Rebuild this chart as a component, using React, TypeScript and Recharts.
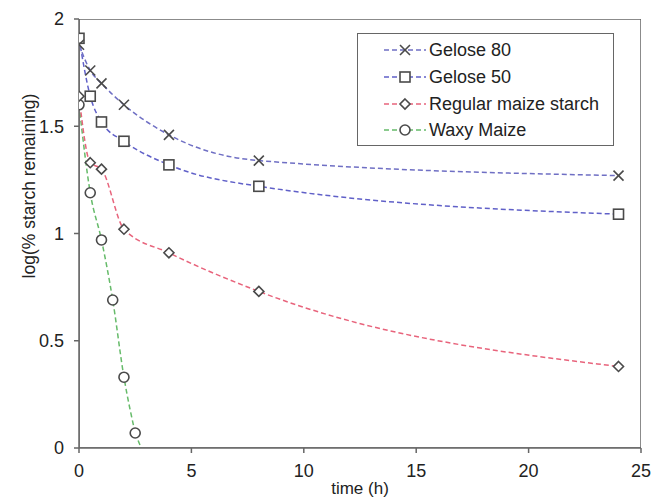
import React from 'react';
import { LineChart, Line, XAxis, YAxis, ReferenceArea } from 'recharts';

const gelose80Times = [0, 0.5, 1, 2, 4, 8, 24];
const gelose80Values = [1.88, 1.76, 1.7, 1.6, 1.46, 1.34, 1.27];
const gelose50Times = [0, 0.5, 1, 2, 4, 8, 24];
const gelose50Values = [1.91, 1.64, 1.52, 1.43, 1.32, 1.22, 1.09];
const regularTimes = [0, 0.5, 1, 2, 4, 8, 24];
const regularValues = [1.64, 1.33, 1.3, 1.02, 0.91, 0.73, 0.38];
const waxyTimes = [0, 0.5, 1, 1.5, 2, 2.5];
const waxyValues = [1.6, 1.19, 0.97, 0.69, 0.33, 0.07];
const waxyTailTimes = [2.5, 2.8];
const waxyTailValues = [0.07, -0.01];

const xTicks = [0, 5, 10, 15, 20, 25];
const yTicks = [0, 0.5, 1, 1.5, 2];

const zip = (ts: number[], vs: number[]) => ts.map((t, i) => ({ t, v: vs[i] }));

const g80 = zip(gelose80Times, gelose80Values);
const g50 = zip(gelose50Times, gelose50Values);
const reg = zip(regularTimes, regularValues);
const waxy = zip(waxyTimes, waxyValues);
const waxyTail = zip(waxyTailTimes, waxyTailValues);

const MK = '#4a4a4a';
const FONT = '"Liberation Sans", Arial, sans-serif';
const TXT = '#222';

const C80 = '#6f6fc4';
const C50 = '#6060c8';
const CREG = '#e8647c';
const CWAXY = '#66bb6a';

type Kind = 'x' | 'square' | 'diamond' | 'circle';

const Marker = ({ kind, cx, cy }: { kind: Kind; cx: number; cy: number }) => {
  const s = 5;
  if (kind === 'x')
    return (
      <g stroke={MK} strokeWidth={1.6}>
        <line x1={cx - s} y1={cy - s} x2={cx + s} y2={cy + s} />
        <line x1={cx - s} y1={cy + s} x2={cx + s} y2={cy - s} />
      </g>
    );
  if (kind === 'square')
    return <rect x={cx - s} y={cy - s} width={2 * s} height={2 * s} fill="#fff" stroke={MK} strokeWidth={1.6} />;
  if (kind === 'diamond')
    return (
      <polygon
        points={`${cx},${cy - s} ${cx + s},${cy} ${cx},${cy + s} ${cx - s},${cy}`}
        fill="#fff"
        stroke={MK}
        strokeWidth={1.6}
      />
    );
  return <circle cx={cx} cy={cy} r={s} fill="#fff" stroke={MK} strokeWidth={1.6} />;
};

const dotFn = (kind: Kind) => (props: any) =>
  <Marker key={`${kind}-${props.index}`} kind={kind} cx={props.cx} cy={props.cy} />;

const legendItems: { name: string; color: string; kind: Kind }[] = [
  { name: 'Gelose 80', color: C80, kind: 'x' },
  { name: 'Gelose 50', color: C50, kind: 'square' },
  { name: 'Regular maize starch', color: CREG, kind: 'diamond' },
  { name: 'Waxy Maize', color: CWAXY, kind: 'circle' },
];

const LegendBox = () => (
  <div
    style={{
      position: 'absolute',
      left: 357,
      top: 33,
      width: 257,
      height: 113,
      boxSizing: 'border-box',
      border: '1.5px solid #666',
      background: '#fff',
      fontFamily: FONT,
      fontSize: 18,
      color: TXT,
      paddingTop: 3,
    }}
  >
    {legendItems.map((it) => (
      <div key={it.name} style={{ display: 'flex', alignItems: 'center', height: 26.7 }}>
        <svg width={70} height={20} style={{ flex: 'none' }}>
          <line x1={26} y1={10} x2={68} y2={10} stroke={it.color} strokeWidth={1.5} strokeDasharray="5 3" />
          <Marker kind={it.kind} cx={47} cy={10} />
        </svg>
        <span style={{ marginLeft: 1, lineHeight: '20px' }}>{it.name}</span>
      </div>
    ))}
  </div>
);

const YLabel = () => (
  <text
    x={35}
    y={186}
    transform="rotate(-90 35 186)"
    textAnchor="middle"
    fontSize={17.5}
    fontFamily={FONT}
    fill={TXT}
  >
    log(% starch remaining)
  </text>
);

const XLabel = () => (
  <text x={360} y={494} textAnchor="middle" fontSize={17} fontFamily={FONT} fill={TXT}>
    time (h)
  </text>
);

export default function App() {
  const lineProps = {
    dataKey: 'v',
    type: 'monotone' as const,
    strokeWidth: 1.5,
    strokeDasharray: '5 3',
    isAnimationActive: false,
    activeDot: false as const,
    legendType: 'none' as const,
  };
  return (
    <div style={{ position: 'absolute', left: 0, top: 0, width: 651, height: 497, background: '#fff' }}>
      <LineChart
        width={651}
        height={497}
        margin={{ top: 19, right: 10, left: 14, bottom: 19 }}
        style={{ fontFamily: FONT }}
      >
        <XAxis
          type="number"
          dataKey="t"
          domain={[0, 25]}
          ticks={xTicks}
          allowDataOverflow
          height={30}
          tickSize={5}
          tickMargin={11}
          stroke="#666"
          strokeWidth={1.5}
          tick={{ fill: TXT, fontSize: 18, fontFamily: FONT }}
          label={<XLabel />}
        />
        <YAxis
          type="number"
          domain={[0, 2]}
          ticks={yTicks}
          allowDataOverflow
          width={65}
          tickSize={5}
          tickMargin={10}
          stroke="#666"
          strokeWidth={1.5}
          tick={{ fill: TXT, fontSize: 18, fontFamily: FONT }}
          label={<YLabel />}
        />
        <ReferenceArea x1={0} x2={25} y1={0} y2={2} fill="none" stroke="#666" strokeWidth={1.5} ifOverflow="hidden" />
        <Line {...lineProps} data={waxyTail} stroke={CWAXY} dot={false} name="waxyTail" type="linear" />
        <Line {...lineProps} data={waxy} stroke={CWAXY} dot={dotFn('circle')} name="Waxy Maize" />
        <Line {...lineProps} data={reg} stroke={CREG} dot={dotFn('diamond')} name="Regular maize starch" />
        <Line {...lineProps} data={g50} stroke={C50} dot={dotFn('square')} name="Gelose 50" />
        <Line {...lineProps} data={g80} stroke={C80} dot={dotFn('x')} name="Gelose 80" />
      </LineChart>
      <LegendBox />
    </div>
  );
}
